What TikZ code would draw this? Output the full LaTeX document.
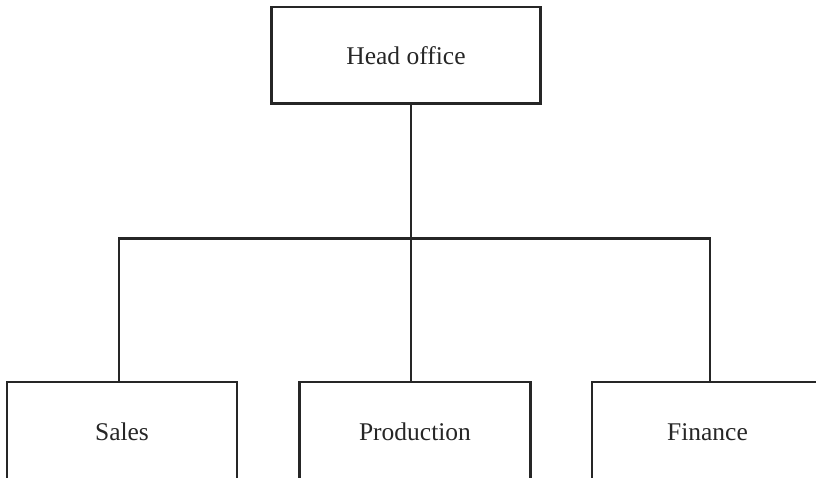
\documentclass[tikz,border=0pt]{standalone}
\usepackage{fontspec}
\setmainfont{Liberation Serif}
\begin{document}
\begin{tikzpicture}[x=1pt,y=-1pt,
  box/.style={draw=black!85,line width=2.4pt,rectangle,inner sep=0pt,
    font=\fontsize{25.5}{30}\selectfont,text=black!85},
  conn/.style={draw=black!85,line width=2.4pt}]
\useasboundingbox (0,0) rectangle (816,478);
\clip (0,0) rectangle (816,478);
\node[box,minimum width=269pt,minimum height=96.5pt] (head) at (406,55.3) {Head office};
\node[box,minimum width=230pt,minimum height=100.6pt] (sales) at (122,432) {Sales};
\node[box,minimum width=231pt,minimum height=100.6pt] (prod) at (415,432) {Production};
\node[box,minimum width=250pt,minimum height=100.6pt,text width=231pt,align=center] (fin) at (717,432) {\hspace*{-19pt}Finance};
\coordinate (dL) at (119,238.7);
\coordinate (dC) at (410.7,238.7);
\coordinate (dR) at (710,238.7);
\draw[conn] (dC |- head.south) -- (dC);
\draw[conn] (dL |- sales.north) -- (dL) -- (dR) -- (dR |- fin.north);
\draw[conn] (dC) -- (dC |- prod.north);
\end{tikzpicture}
\end{document}
